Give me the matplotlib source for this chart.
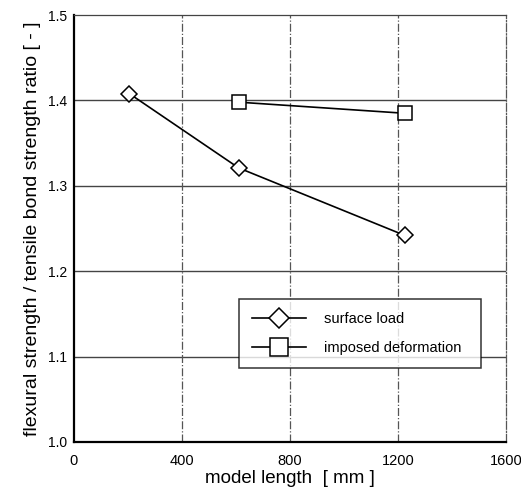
import matplotlib
matplotlib.use("Agg")
import matplotlib.pyplot as plt

plt.rcParams["font.family"] = ["Liberation Sans", "DejaVu Sans"]

# data
surface_x = [205, 610, 1225]
surface_y = [1.408, 1.321, 1.242]
imposed_x = [610, 1225]
imposed_y = [1.398, 1.385]

x_ticks = [0, 400, 800, 1200, 1600]
y_ticks = [1.0, 1.1, 1.2, 1.3, 1.4, 1.5]

fig = plt.figure(figsize=(5.21, 4.91), dpi=100)
ax = fig.add_axes([0.142, 0.0998, 0.829, 0.8695])

# grid: solid horizontal, dash-dot vertical
for y in y_ticks[1:-1]:
    ax.axhline(y, color="#444444", lw=1.0, zorder=1)
for x in x_ticks[1:-1]:
    ax.axvline(x, color="#555555", lw=0.9, ls="-.", zorder=1)

ax.plot(surface_x, surface_y, color="black", lw=1.2, marker="D",
        markersize=8, markerfacecolor="white", markeredgecolor="black",
        markeredgewidth=1.1, label="surface load", zorder=3)
ax.plot(imposed_x, imposed_y, color="black", lw=1.2, marker="s",
        markersize=10.5, markerfacecolor="white", markeredgecolor="black",
        markeredgewidth=1.1, label="imposed deformation", zorder=3)

ax.set_xlim(0, 1600)
ax.set_ylim(1.0, 1.5)
ax.set_xticks(x_ticks)
ax.set_yticks(y_ticks)
ax.set_yticklabels([f"{v:.1f}" for v in y_ticks])
ax.tick_params(axis="y", length=0, labelsize=10, pad=5)
ax.tick_params(axis="x", length=0, labelsize=10.5, pad=9)

ax.spines["left"].set_linewidth(1.6)
ax.spines["bottom"].set_linewidth(1.6)
ax.spines["top"].set_linewidth(0.9)
ax.spines["top"].set_color("#444444")
ax.spines["right"].set_linewidth(0.9)
ax.spines["right"].set_linestyle("-.")
ax.spines["right"].set_color("#555555")

ax.set_xlabel("model length  [ mm ]", fontsize=13.5, labelpad=1)
ax.set_ylabel("flexural strength / tensile bond strength ratio [ - ]", fontsize=14, labelpad=5)

leg = ax.legend(loc="lower left", bbox_to_anchor=(0.382, 0.173, 0.56, 0.167),
                mode="expand", borderaxespad=0, fontsize=10.5, frameon=True,
                fancybox=False, edgecolor="black", handlelength=3.7,
                borderpad=0.9, labelspacing=1.05, handletextpad=1.2,
                markerscale=1.25)
leg.get_frame().set_linewidth(1.1)

fig.savefig("out.png", dpi=100)
